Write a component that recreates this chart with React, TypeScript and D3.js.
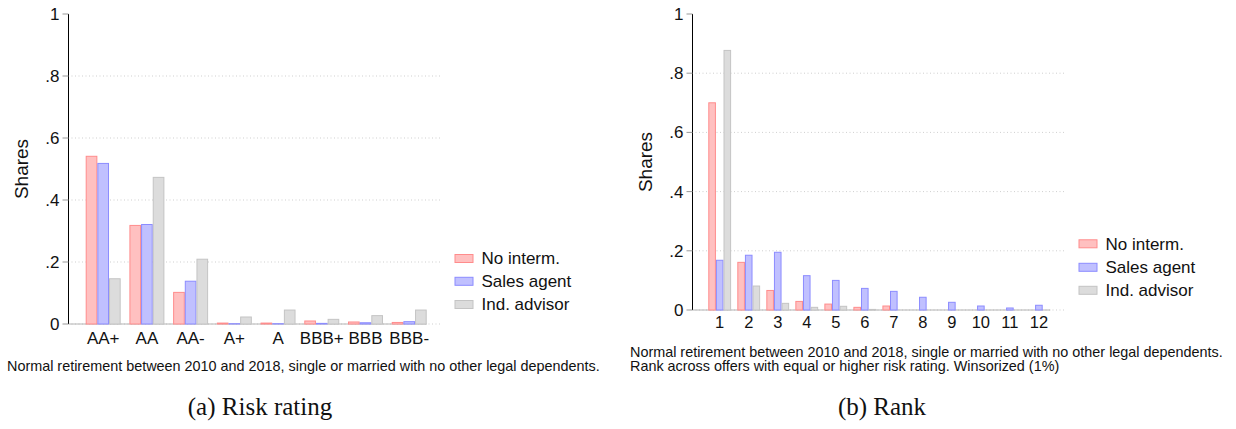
import React from "react";
import * as d3 from "d3";

const ratingCategories = ["AA+", "AA", "AA-", "A+", "A", "BBB+", "BBB", "BBB-"];
const ratingNoInterm = [0.541, 0.318, 0.102, 0.003, 0.003, 0.0097, 0.0065, 0.005];
const ratingSalesAgent = [0.518, 0.321, 0.138, 0.001, 0.001, 0.002, 0.004, 0.0075];
const ratingIndAdvisor = [0.146, 0.473, 0.209, 0.0226, 0.045, 0.015, 0.027, 0.045];

const rankCategories = ["1", "2", "3", "4", "5", "6", "7", "8", "9", "10", "11", "12"];
const rankNoInterm = [0.7, 0.161, 0.066, 0.029, 0.02, 0.009, 0.0135, 0, 0, 0, 0, 0];
const rankSalesAgent = [0.168, 0.185, 0.195, 0.116, 0.1, 0.073, 0.063, 0.043, 0.026, 0.0135, 0.0068, 0.016];
const rankIndAdvisor = [0.877, 0.081, 0.0225, 0.009, 0.0125, 0.002, 0, 0, 0, 0, 0, 0];

const seriesNames = ["No interm.", "Sales agent", "Ind. advisor"];
const yTicks = [0, 0.2, 0.4, 0.6, 0.8, 1];
const yTickLabels = ["0", ".2", ".4", ".6", ".8", "1"];

const captionLine1 = "Normal retirement between 2010 and 2018, single or married with no other legal dependents.";
const captionLine2 = "Rank across offers with equal or higher risk rating. Winsorized (1%)";

const fills = ["#ffc0c0", "#c0c0ff", "#dcdcdc"];
const strokes = ["#ff8c8c", "#8c8cff", "#c4c4c4"];
const SANS = "'Liberation Sans', Arial, Helvetica, sans-serif";
const SERIF = "'Liberation Serif', 'Times New Roman', serif";

type PanelProps = {
  categories: string[];
  series: number[][];
  axisX: number;
  barStart: number;
  barEnd: number;
  gridEnd: number;
  y0: number;
  y1: number;
  inner: number;
  xLabelY: number;
  tickFont: number;
  sharesX: number;
  legendX: number;
  legendY: number[];
};

function Panel(p: PanelProps) {
  const x = d3.scaleBand<string>().domain(p.categories).range([p.barStart, p.barEnd]).paddingInner(p.inner).paddingOuter(0);
  const xs = d3.scaleBand<string>().domain(seriesNames).range([0, x.bandwidth()]).padding(0);
  const y = d3.scaleLinear().domain([0, 1]).range([p.y0, p.y1]);
  const sharesY = (p.y0 + p.y1) / 2;
  return (
    <g>
      {yTicks.filter((t) => t < 1).map((t) => (
        <line key={"g" + t} x1={p.axisX + 3} x2={p.gridEnd} y1={y(t)} y2={y(t)} stroke="#cfcfcf" strokeWidth={1} strokeDasharray="1 2.5" />
      ))}
      <line x1={p.axisX} x2={p.barEnd} y1={y(0)} y2={y(0)} stroke="#b4b4b4" strokeWidth={1} />
      {p.series.map((vals, si) =>
        vals.map((v, i) => {
          const c = p.categories[i];
          const bx = (x(c) as number) + (xs(seriesNames[si]) as number);
          return (
            <rect key={si + "-" + i} x={bx + 0.5} y={y(v)} width={xs.bandwidth() - 1} height={Math.max(0, y(0) - y(v))} fill={fills[si]} stroke={strokes[si]} strokeWidth={1} />
          );
        })
      )}
      <line x1={p.axisX} x2={p.axisX} y1={y(1)} y2={y(0)} stroke="#000" strokeWidth={1} />
      {yTicks.map((t, i) => (
        <g key={"t" + t}>
          <line x1={p.axisX - 6} x2={p.axisX} y1={y(t)} y2={y(t)} stroke="#999" strokeWidth={1} />
          <text x={p.axisX - 9} y={y(t)} dy="0.35em" textAnchor="end" fontFamily={SANS} fontSize={17} fill="#111">
            {yTickLabels[i]}
          </text>
        </g>
      ))}
      <text transform={`translate(${p.sharesX},${sharesY}) rotate(-90)`} textAnchor="middle" fontFamily={SANS} fontSize={19} fill="#111" dy="0.35em">
        Shares
      </text>
      {p.categories.map((c) => (
        <text key={"x" + c} x={(x(c) as number) + x.bandwidth() / 2} y={p.xLabelY} textAnchor="middle" fontFamily={SANS} fontSize={p.tickFont} fill="#111">
          {c}
        </text>
      ))}
      {seriesNames.map((s, i) => (
        <g key={"l" + s}>
          <rect x={p.legendX + 0.5} y={p.legendY[i] - 4} width={18} height={8} fill={fills[i]} stroke={strokes[i]} strokeWidth={1} />
          <text x={p.legendX + 27} y={p.legendY[i]} dy="0.35em" fontFamily={SANS} fontSize={17} fill="#111">
            {s}
          </text>
        </g>
      ))}
    </g>
  );
}

export default function App() {
  return (
    <svg width={1236} height={429} style={{ position: "absolute", left: 0, top: 0, background: "#fff" }}>
      <rect width={1236} height={429} fill="#fff" />
      <Panel
        categories={ratingCategories}
        series={[ratingNoInterm, ratingSalesAgent, ratingIndAdvisor]}
        axisX={68.5}
        barStart={85.7}
        barEnd={426.7}
        gridEnd={442}
        y0={324}
        y1={14}
        inner={0.2}
        xLabelY={344}
        tickFont={17}
        sharesX={21}
        legendX={454.5}
        legendY={[258.5, 281.3, 304.5]}
      />
      <Panel
        categories={rankCategories}
        series={[rankNoInterm, rankSalesAgent, rankIndAdvisor]}
        axisX={692.5}
        barStart={708.3}
        barEnd={1050.3}
        gridEnd={1066}
        y0={310}
        y1={14}
        inner={0.214}
        xLabelY={328}
        tickFont={16.5}
        sharesX={645}
        legendX={1078.5}
        legendY={[243.8, 267.3, 290.3]}
      />
      <text x={7} y={371} fontFamily={SANS} fontSize={14.4} fill="#111">{captionLine1}</text>
      <text x={630} y={357} fontFamily={SANS} fontSize={14.4} fill="#111">{captionLine1}</text>
      <text x={630} y={371} fontFamily={SANS} fontSize={14.4} fill="#111">{captionLine2}</text>
      <text x={260} y={415} textAnchor="middle" fontFamily={SERIF} fontSize={25} fill="#111">(a) Risk rating</text>
      <text x={882} y={415} textAnchor="middle" fontFamily={SERIF} fontSize={25} fill="#111">(b) Rank</text>
    </svg>
  );
}
